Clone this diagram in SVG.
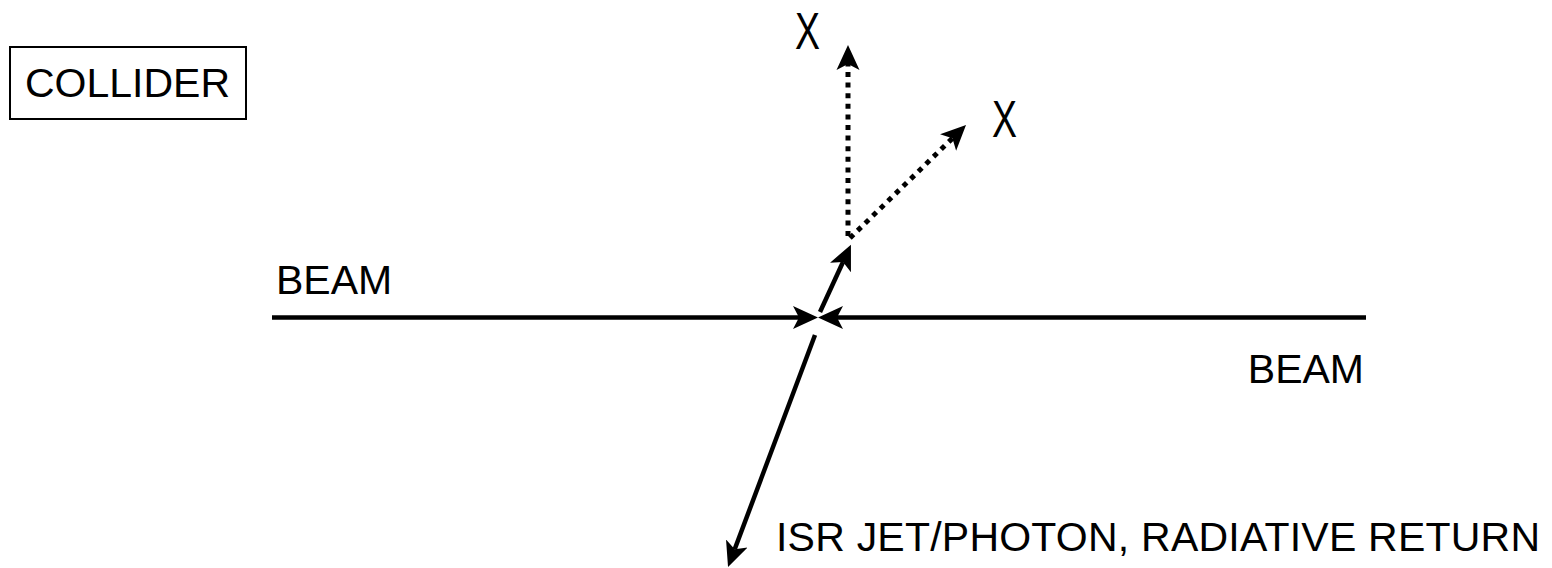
<svg xmlns="http://www.w3.org/2000/svg" width="1552" height="568" viewBox="0 0 1552 568">
<style>
text{font-family:"Liberation Sans",Arial,sans-serif;font-size:41px;fill:#000}
.x{font-size:52px}
.ln{stroke:#000;stroke-width:4.5;fill:none}
.dot{stroke:#000;stroke-width:5;fill:none;stroke-dasharray:5 5.6}
</style>
<defs>
<marker id="ah" viewBox="0 -13 26 26" refX="6" refY="0" markerWidth="26" markerHeight="26" markerUnits="userSpaceOnUse" orient="auto">
<path d="M25,0 L0,-11.5 L6,0 L0,11.5 z" fill="#000"/>
</marker>
</defs>
<g id="collider">
<rect x="10" y="47" width="236" height="72" fill="none" stroke="#000" stroke-width="2"/>
<text x="25" y="97">COLLIDER</text>
</g>
<g id="beam-left-label"><text x="276" y="294">BEAM</text></g>
<g id="beam-right-label"><text x="1364" y="383" text-anchor="end">BEAM</text></g>
<g id="x1"><text class="x" transform="translate(795,49) scale(0.72,1)">X</text></g>
<g id="x2"><text class="x" transform="translate(992,137) scale(0.72,1)">X</text></g>
<g id="isr"><text x="776" y="551" textLength="764" lengthAdjust="spacing">ISR JET/PHOTON, RADIATIVE RETURN</text></g>
<g id="connectors">
<line class="ln" x1="272" y1="317.5" x2="799" y2="317.5" marker-end="url(#ah)"/>
<line class="ln" x1="1366" y1="317.5" x2="837" y2="317.5" marker-end="url(#ah)"/>
<line class="ln" x1="820" y1="312" x2="843" y2="262" marker-end="url(#ah)"/>
<line class="ln" x1="815" y1="335" x2="734.7" y2="549.2" marker-end="url(#ah)"/>
<line class="dot" x1="848" y1="236" x2="848" y2="64" marker-end="url(#ah)"/>
<line class="dot" x1="850" y1="238" x2="952.4" y2="138.3" marker-end="url(#ah)"/>
</g>
</svg>
